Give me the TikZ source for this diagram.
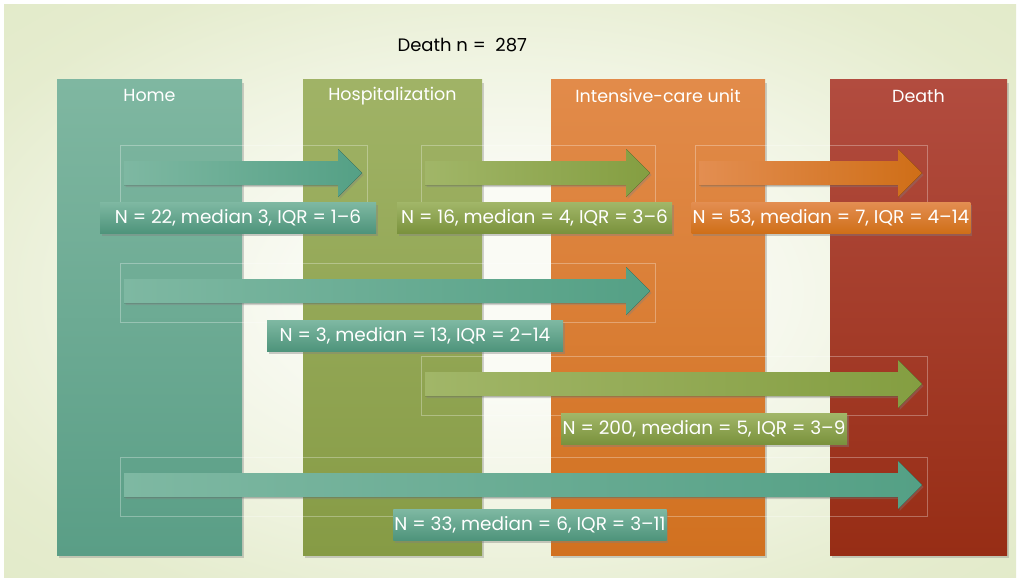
\documentclass[tikz,border=0pt]{standalone}
\usepackage{fontspec}
\setmainfont{Poppins}
\usetikzlibrary{shadows}

\definecolor{bgMid}{HTML}{FAFBF5}
\definecolor{bgHalf}{HTML}{F0F4E2}
\definecolor{bgEdge}{HTML}{E5ECCE}
\definecolor{bgCorner}{HTML}{DCE6BF}
\definecolor{homeTop}{HTML}{7FB7A1}
\definecolor{homeBot}{HTML}{5A9E86}
\definecolor{hospTop}{HTML}{A0B366}
\definecolor{hospBot}{HTML}{869B45}
\definecolor{icuTop}{HTML}{E28B4A}
\definecolor{icuBot}{HTML}{D17120}
\definecolor{deathTop}{HTML}{B24C3F}
\definecolor{deathBot}{HTML}{972D15}
\definecolor{tealL}{HTML}{7EB8A2}
\definecolor{tealR}{HTML}{54A085}
\definecolor{greenL}{HTML}{A1B668}
\definecolor{greenR}{HTML}{849E41}
\definecolor{orangeL}{HTML}{E38E51}
\definecolor{orangeR}{HTML}{CF6E17}

\pgfdeclareradialshading{backglow}{\pgfpoint{0bp}{0bp}}{%
  color(0bp)=(bgMid); color(9bp)=(bgMid); color(20bp)=(bgHalf);
  color(30bp)=(bgEdge); color(50bp)=(bgCorner)}

% block arrow: left x, tip x, centre y, left colour, right colour
\newcommand{\flowarrow}[5]{%
  \fill[left color=#4, right color=#5, drop shadow={shadow xshift=1.5pt, shadow yshift=-2pt, opacity=.35}]
    (#1,{#3-12}) -- ({#2-24},{#3-12}) -- ({#2-24},{#3-24}) -- (#2,#3)
    -- ({#2-24},{#3+24}) -- ({#2-24},{#3+12}) -- (#1,{#3+12}) -- cycle;
  \draw[white, opacity=.3, line width=.4pt] ({#1-4},{#3-28}) rectangle ({#2+5},{#3+31});
}

\tikzset{
  stage/.style={minimum height=475pt, inner sep=0pt,
    drop shadow={shadow xshift=2pt, shadow yshift=-3pt, opacity=.35}},
  stagetitle/.style={text=white, font=\fontsize{17.5}{20}\selectfont},
  statbox/.style={text=white, font=\fontsize{18.5}{21}\selectfont, minimum height=31pt,
    inner xsep=1pt, inner ysep=0pt,
    drop shadow={shadow xshift=1.5pt, shadow yshift=-2pt, opacity=.4}},
  tealbox/.style={statbox, top color=tealL, bottom color=tealR!92!black},
  greenbox/.style={statbox, top color=greenL, bottom color=greenR!92!black},
  orangebox/.style={statbox, top color=orangeL, bottom color=orangeR},
}

\begin{document}
\begin{tikzpicture}[x=1pt, y=-1pt]
    % Background
    \fill[white] (0,0) rectangle (1018,578);
    \shade[shading=backglow] (4,5) rectangle (1016,578);
    \useasboundingbox (0,0) rectangle (1018,578);

    % Title
    \node[font=\fontsize{18}{21}\selectfont, anchor=west] (total) at (394,45) {Death n =\ \ 287};

    % Stages
    \node[stage, minimum width=185pt, top color=homeTop, bottom color=homeBot] (home) at (149.5,317.5) {};
    \node[stage, minimum width=179pt, top color=hospTop, bottom color=hospBot] (hosp) at (392.5,317.5) {};
    \node[stage, minimum width=214pt, top color=icuTop, bottom color=icuBot] (icu) at (658,317.5) {};
    \node[stage, minimum width=177pt, top color=deathTop, bottom color=deathBot] (death) at (918.5,317.5) {};

    \node[stagetitle] (homeT) at ([yshift=-16pt]home.north) {Home};
    \node[stagetitle] (hospT) at ([yshift=-16pt]hosp.north) {Hospitalization};
    \node[stagetitle] (icuT) at ([yshift=-16pt]icu.north) {Intensive-care unit};
    \node[stagetitle] (deathT) at ([yshift=-16pt]death.north) {Death};

    % Row 1
    \flowarrow{124}{362}{173}{tealL}{tealR}
    \flowarrow{425}{650}{173}{greenL}{greenR}
    \flowarrow{699}{922}{173}{orangeL}{orangeR}
    \node[tealbox, minimum width=276pt] (homeHosp) at (238,218) {N = 22, median 3, IQR = 1–6};
    \node[greenbox, minimum width=275pt] (hospIcu) at (534.5,218) {N = 16, median = 4, IQR = 3–6};
    \node[orangebox, minimum width=276pt] (icuDeath) at (831,218) {N = 53, median = 7, IQR = 4–14};

    % Row 2
    \flowarrow{124}{650}{291}{tealL}{tealR}
    \node[tealbox, minimum width=296pt] (homeIcu) at (415,336) {N = 3, median = 13, IQR = 2–14};

    % Row 3
    \flowarrow{425}{922}{384}{greenL}{greenR}
    \node[greenbox, minimum width=286pt] (hospDeath) at (704,429) {N = 200, median = 5, IQR = 3–9};

    % Row 4
    \flowarrow{124}{922}{485}{tealL}{tealR}
    \node[tealbox, minimum width=272pt] (homeDeath) at (530,525) {N = 33, median = 6, IQR = 3–11};
\end{tikzpicture}
\end{document}
